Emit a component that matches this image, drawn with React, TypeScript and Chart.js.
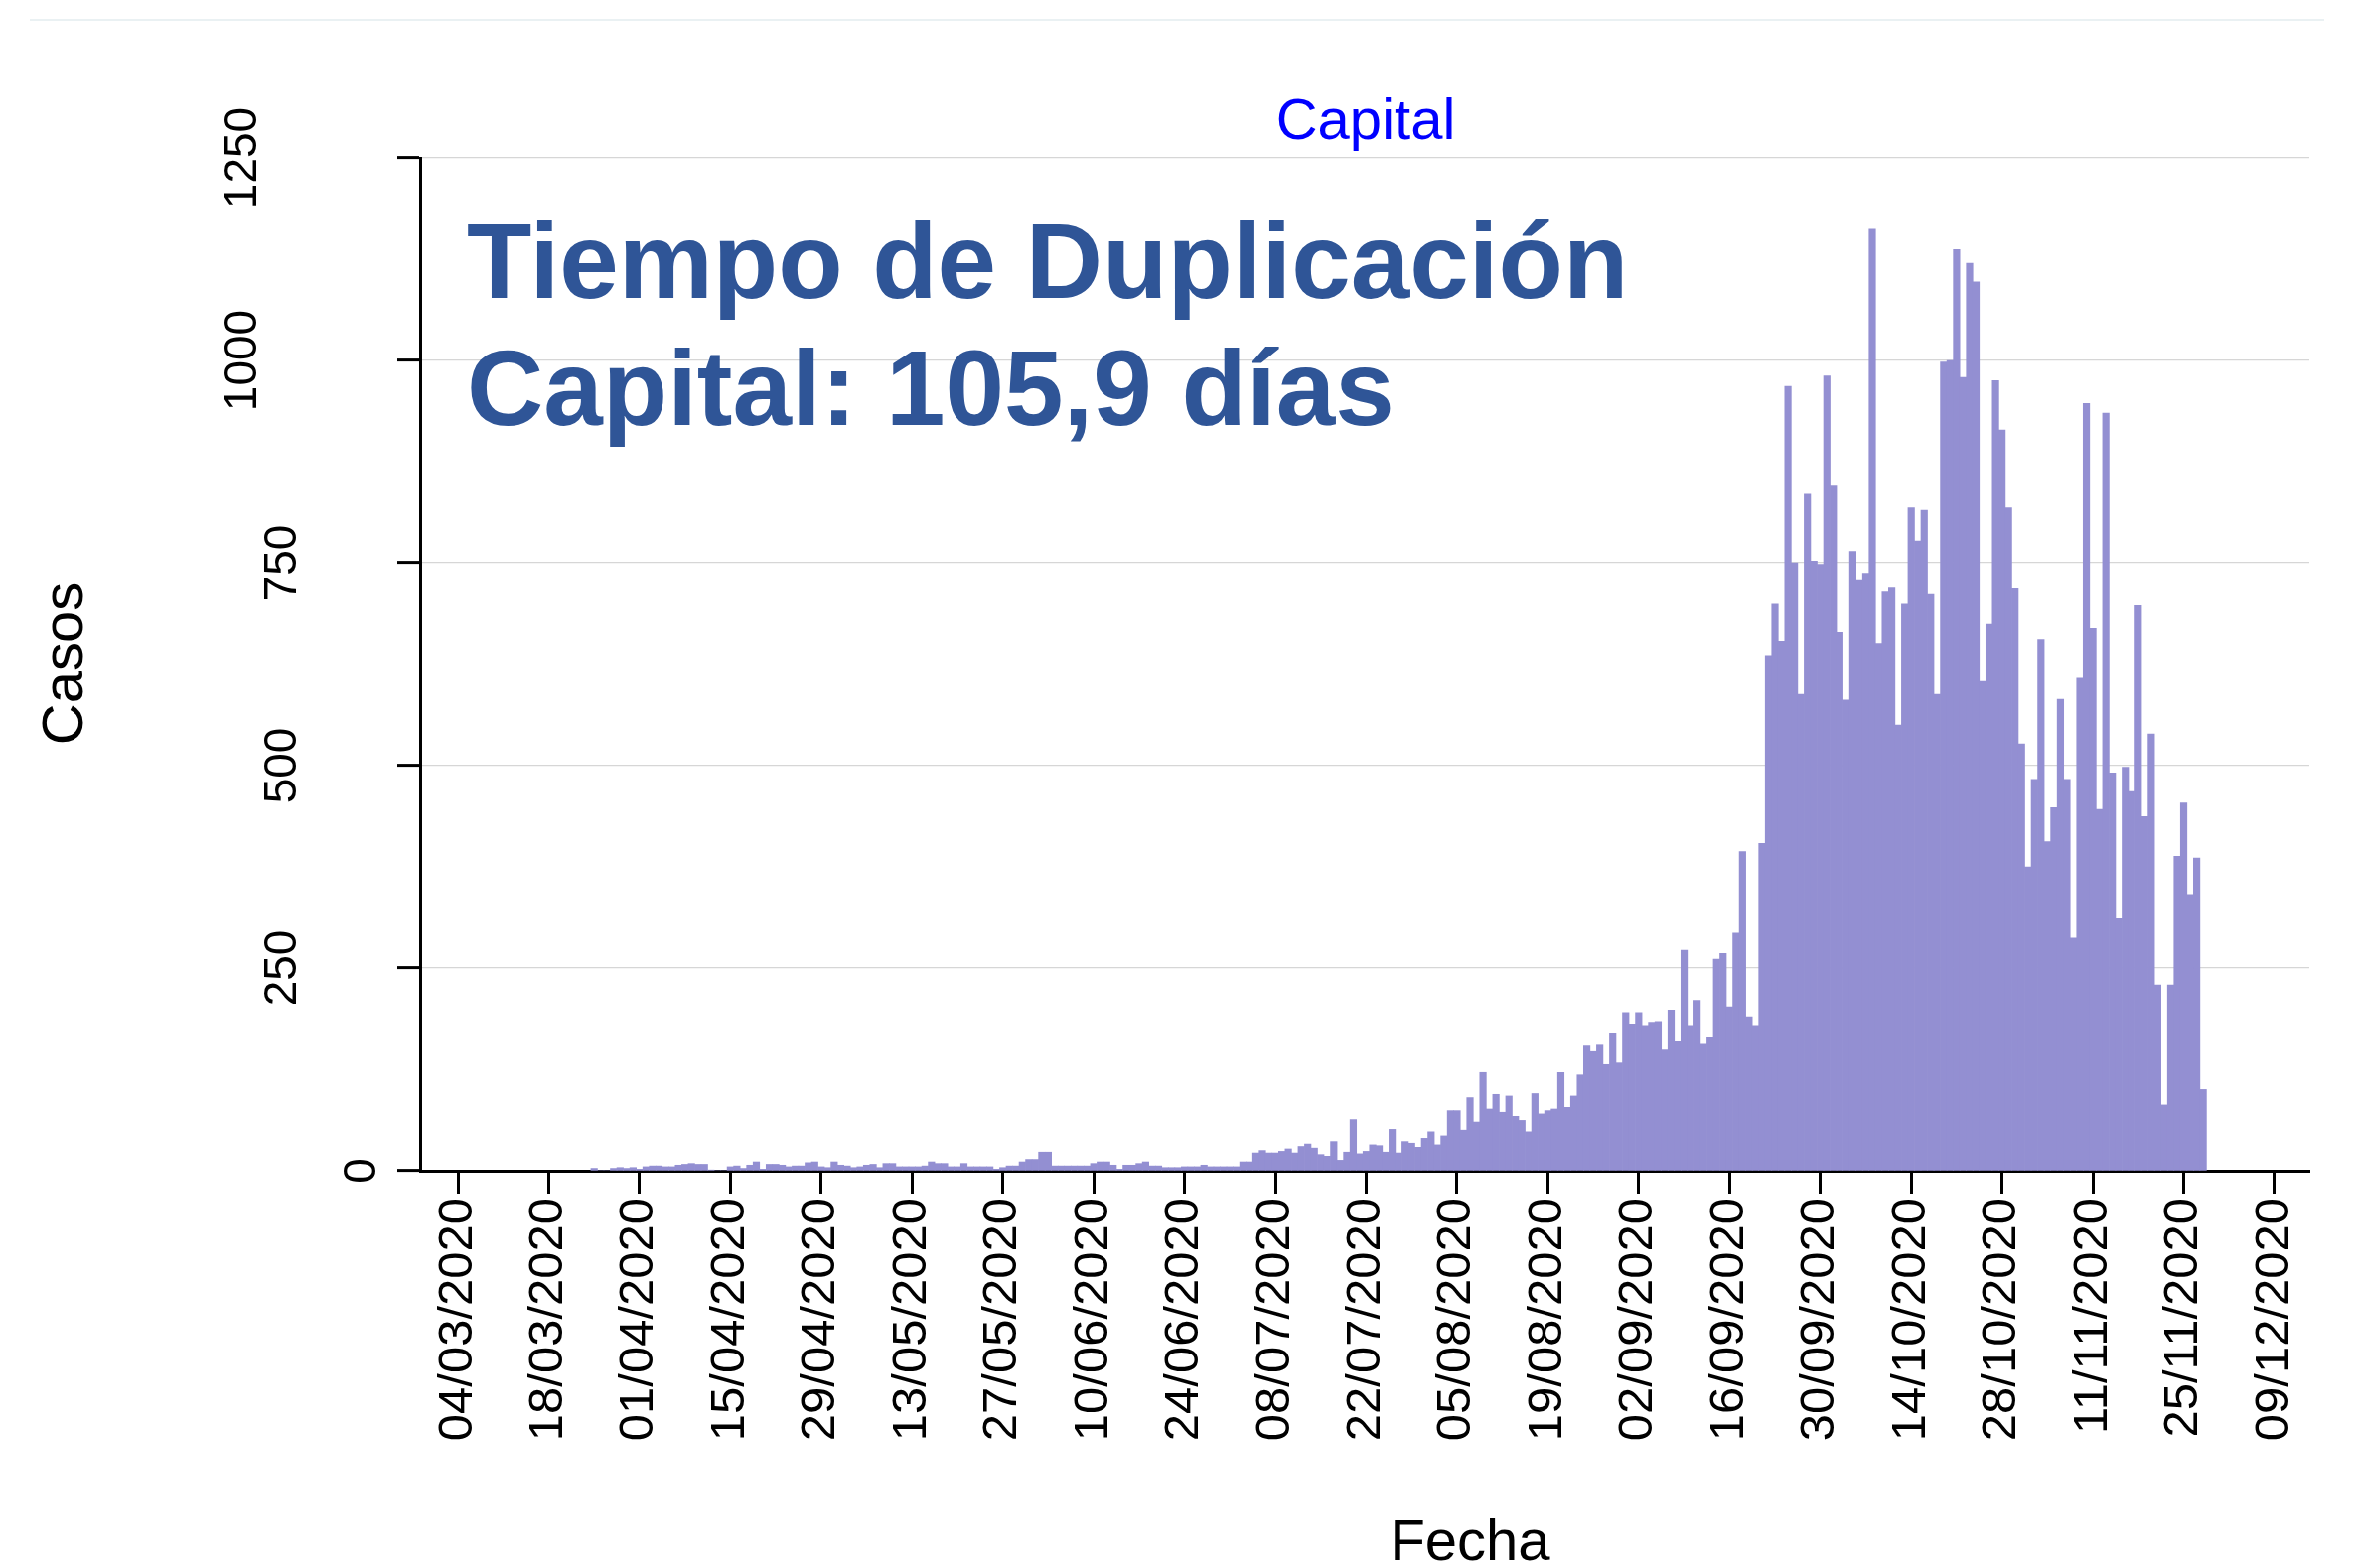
import React, { useEffect, useRef } from 'react';
import { Chart, registerables } from 'chart.js';

Chart.register(...registerables);

const FONT = '"Liberation Sans", Arial, Helvetica, sans-serif';

// Day offset (days after 04/03/2020) of the first daily value
const diaInicial = 21;

// Daily cases, one value per day from day 21 (25/03/2020) to day 269 (28/11/2020)
const casosMarzoMayo = [
  3, 0, 0, 3, 4, 3, 4, 2, 5, 6, 6, 5, 5, 7, 8, 9, 8, 8, 1, 0, 0, 5, 6, 3, 7,
  11, 2, 8, 8, 7, 5, 6, 6, 10, 11, 5, 4, 11, 7, 6, 4, 5, 7, 8, 4, 9, 9, 5, 5,
];
const casosMayoJulio = [
  5, 5, 6, 11, 9, 9, 5, 5, 9, 5, 5, 5, 5, 2, 4, 6, 6, 11, 14, 14, 23, 23, 6, 6,
  6, 6, 6, 6, 9, 11, 11, 7, 2, 7, 7, 9, 11, 6, 6, 4, 4, 4, 5, 5, 5, 7, 5, 5, 5,
  5, 5, 11,
];
const casosJulioAgosto = [
  11, 22, 25, 22, 22, 24, 27, 22, 30, 33, 28, 20, 18, 36, 13, 23, 63, 21, 24,
  32, 31, 23, 51, 22, 36, 34, 29, 40, 48, 32, 43,
  74, 74, 50, 90, 60, 121, 76, 94, 72, 92, 67, 62, 48, 95, 70, 74,
];
const casosAgostoSeptiembre = [
  76, 121, 78, 92, 118, 155, 148, 156, 132, 170, 134, 195, 181, 195, 179, 183,
  184, 150, 198, 160, 272, 179, 210, 157, 165, 261, 268, 202, 293, 394, 190, 179,
];
const casosSeptiembreOctubre = [
  404, 635, 700, 654, 968, 750, 588, 836, 752, 748, 981, 846, 665, 581, 764,
  729, 737, 1162,
];
const casosOctubreNoviembre = [
  650, 715, 720, 550, 700, 818, 777, 815, 712, 588, 998, 1000, 1137, 979, 1120,
  1097, 604, 675, 975, 914, 818, 719, 527, 375, 483, 656, 406, 448, 582, 483,
  287, 608, 947, 670, 446, 935, 491, 312, 498, 468, 698, 437, 539, 229, 81, 229,
  388, 454, 341, 386, 100,
];

const casosDiarios = [
  ...casosMarzoMayo,
  ...casosMayoJulio,
  ...casosJulioAgosto,
  ...casosAgostoSeptiembre,
  ...casosSeptiembreOctubre,
  ...casosOctubreNoviembre,
];

// X tick positions (days after 04/03/2020) and their labels
const diasEtiqueta = [0, 14, 28, 42, 56, 70, 84, 98, 112, 126, 140, 154, 168, 182, 196, 210, 224, 238, 252, 266, 280];
const etiquetasFecha = [
  '04/03/2020', '18/03/2020', '01/04/2020', '15/04/2020', '29/04/2020',
  '13/05/2020', '27/05/2020', '10/06/2020', '24/06/2020', '08/07/2020',
  '22/07/2020', '05/08/2020', '19/08/2020', '02/09/2020', '16/09/2020',
  '30/09/2020', '14/10/2020', '28/10/2020', '11/11/2020', '25/11/2020',
  '09/12/2020',
];
const ticksCasos = [0, 250, 500, 750, 1000, 1250];

const tituloPanel = 'Capital';
const anotacion = ['Tiempo de Duplicación', 'Capital: 105,9 días'];
const tituloX = 'Fecha';
const tituloY = 'Casos';

const COLOR_BARRA = '#938FD2';
const COLOR_ANOTACION = '#2F5597';

const overlay = {
  id: 'overlay',
  afterDraw(chart: any) {
    const ctx = chart.ctx as CanvasRenderingContext2D;
    const { left } = chart.chartArea;
    const yScale = chart.scales.y;
    ctx.save();

    // faint graph-region line at the top
    ctx.strokeStyle = '#EAF1F3';
    ctx.lineWidth = 2;
    ctx.beginPath();
    ctx.moveTo(30, 20);
    ctx.lineTo(2340, 20);
    ctx.stroke();

    // y tick labels (rotated)
    ctx.fillStyle = '#000';
    ctx.font = `46px ${FONT}`;
    ctx.textAlign = 'center';
    ctx.textBaseline = 'alphabetic';
    ticksCasos.forEach((v) => {
      const label = String(v);
      const py = yScale.getPixelForValue(v);
      const cx = left - 21 - 40 * label.length;
      ctx.save();
      ctx.translate(cx + 16, py);
      ctx.rotate(-Math.PI / 2);
      ctx.fillText(label, 0, 0);
      ctx.restore();
    });

    // y axis title
    ctx.font = `58px ${FONT}`;
    ctx.save();
    ctx.translate(83, 668);
    ctx.rotate(-Math.PI / 2);
    ctx.fillText(tituloY, 0, 0);
    ctx.restore();

    // x axis title
    ctx.fillText(tituloX, 1480, 1571);

    // panel subtitle
    ctx.fillStyle = '#0000FF';
    ctx.fillText(tituloPanel, 1375, 140);

    // annotation
    ctx.fillStyle = COLOR_ANOTACION;
    ctx.font = `bold 107px ${FONT}`;
    ctx.textAlign = 'left';
    ctx.fillText(anotacion[0], 470, 300);
    ctx.fillText(anotacion[1], 470, 428);

    ctx.restore();
  },
};

export default function App() {
  const ref = useRef<HTMLCanvasElement>(null);
  useEffect(() => {
    document.body.style.margin = '0';
    const canvas = ref.current as HTMLCanvasElement;
    const chart = new Chart(canvas, {
      type: 'bar',
      data: {
        datasets: [
          {
            label: tituloY,
            data: casosDiarios.map((v, i) => ({ x: diaInicial + i, y: v })),
            backgroundColor: COLOR_BARRA,
            borderWidth: 0,
            barPercentage: 1,
            categoryPercentage: 1,
          },
        ],
      },
      options: {
        responsive: false,
        animation: false,
        devicePixelRatio: 1,
        layout: { padding: { top: 159, right: 45, left: 0, bottom: 0 } },
        plugins: {
          legend: { display: false },
          title: { display: false },
          tooltip: { enabled: false },
        },
        scales: {
          x: {
            type: 'linear',
            min: -5.82,
            max: 285.36,
            offset: false,
            z: 1,
            afterBuildTicks: (s: any) => {
              s.ticks = diasEtiqueta.map((v) => ({ value: v }));
            },
            afterFit: (s: any) => {
              s.height = 400;
            },
            grid: {
              display: true,
              offset: false,
              drawOnChartArea: false,
              drawTicks: true,
              tickLength: 23,
              tickWidth: 3,
              tickColor: '#000',
            },
            border: { display: true, color: '#000', width: 3 },
            ticks: {
              autoSkip: false,
              minRotation: 90,
              maxRotation: 90,
              padding: 4,
              color: '#000',
              font: { family: FONT, size: 49 },
              callback: (v: any) => {
                const i = diasEtiqueta.indexOf(Number(v));
                return i >= 0 ? etiquetasFecha[i] : '';
              },
            },
          },
          y: {
            type: 'linear',
            min: 0,
            max: 1250,
            afterBuildTicks: (s: any) => {
              s.ticks = ticksCasos.map((v) => ({ value: v }));
            },
            afterFit: (s: any) => {
              s.width = 423;
            },
            grid: {
              color: '#D6D6D6',
              lineWidth: 1.2,
              drawTicks: true,
              tickLength: 23,
              tickWidth: 3,
              tickColor: '#000',
            },
            border: { display: true, color: '#000', width: 3 },
            ticks: { display: false },
          },
        },
      } as any,
      plugins: [overlay],
    });
    return () => chart.destroy();
  }, []);
  return (
    <div style={{ width: 2370, height: 1579, background: '#fff' }}>
      <canvas ref={ref} width={2370} height={1579} />
    </div>
  );
}
